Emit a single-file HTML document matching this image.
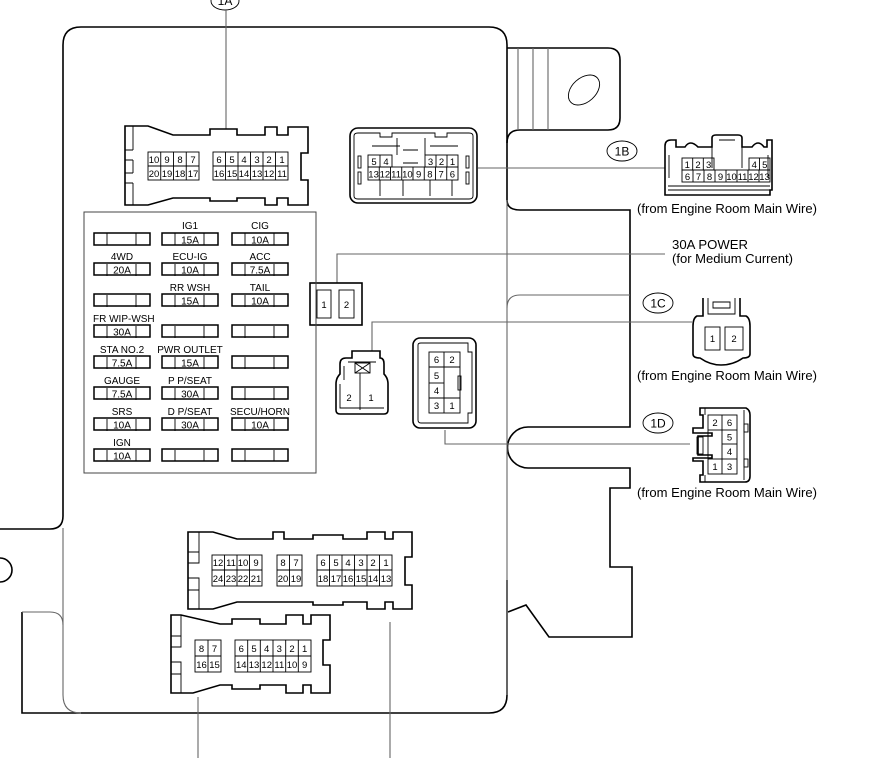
<!DOCTYPE html>
<html><head><meta charset="utf-8"><style>
html,body{margin:0;padding:0;background:#fff;}
svg{display:block;}
text{font-family:"Liberation Sans",Arial,sans-serif;fill:#000;}
.p{font-size:9.5px;text-anchor:middle;}
.l{font-size:10px;text-anchor:middle;}
.cl{font-size:12px;text-anchor:middle;}
.t{font-size:12.5px;}
.k{fill:none;stroke:#000;stroke-width:1.6;}
.g{fill:none;stroke:#666;stroke-width:1.1;}
.c{fill:none;stroke:#000;stroke-width:0.9;}
.f{fill:#fff;stroke:#000;stroke-width:1.5;}
</style></head><body>
<svg width="875" height="758" viewBox="0 0 875 758" xmlns="http://www.w3.org/2000/svg">
<path class="k" d="M0 529 L50 529 Q63 529 63 516 L63 45 Q63 27 81 27 L489 27 Q507 27 507 45 L507 200 Q507 210 520 210 L630 210 L630 427 L528 427 A20.5 20.5 0 0 0 528 468 L630 468 L630 488 L610 488 L610 567 L632 567 L632 637 L549 637 L526 605 L508 612"/>
<path class="k" d="M507 580 L507 695 Q507 713 489 713 L22 713 L22 612"/>
<path class="g" d="M22 612 L50 612 Q63 612 63 625 L63 695 Q63 713 81 713"/>
<path class="g" d="M63 528 L63 625"/>
<path class="g" d="M507 200 L507 695"/>
<path class="g" d="M630 295 L520 295 Q507 295 507 308"/>
<path class="k" d="M0 558 A12 12 0 0 1 0 582"/>
<path class="k" d="M507 48 L608 48 Q620 48 620 60 L620 118 Q620 130 608 130 L520 130 Q507 130 507 143"/>
<path class="g" d="M518 48 L518 130 M533 48 L533 130 M548 48 L548 130"/>
<ellipse cx="584" cy="90" rx="18" ry="12" transform="rotate(-42 584 90)" class="c"/>

<ellipse cx="225" cy="1" rx="14" ry="9" class="c"/>
<text x="225" y="5" class="cl">1A</text>
<line x1="226" y1="10" x2="226" y2="129" class="g"/>
<path class="k" d="M125 126 L148 126 L173 135 L210 135 L210 129 L237 129 L237 135 L265 135 L265 127 L277 127 L277 135 L288 135 L288 127 L308 127 L308 153 L301 153 L301 180 L308 180 L308 205 L288 205 L288 198 L277 198 L277 205 L265 205 L265 198 L237 198 L237 201 L210 201 L210 198 L173 198 L148 205 L125 205 Z"/>
<path class="c" d="M133 126 L133 150 M125 150 L133 150 M125 160 L133 160 M133 160 L133 173 M125 173 L133 173 M125 183 L133 183 M133 183 L133 205"/>
<g class="c">
<rect x="148" y="152" width="51" height="28"/><line x1="148" y1="166" x2="199" y2="166"/>
<line x1="160.75" y1="152" x2="160.75" y2="180"/><line x1="173.5" y1="152" x2="173.5" y2="180"/><line x1="186.25" y1="152" x2="186.25" y2="180"/>
<rect x="213" y="152" width="75" height="28"/><line x1="213" y1="166" x2="288" y2="166"/>
<line x1="225.5" y1="152" x2="225.5" y2="180"/><line x1="238" y1="152" x2="238" y2="180"/><line x1="250.5" y1="152" x2="250.5" y2="180"/><line x1="263" y1="152" x2="263" y2="180"/><line x1="275.5" y1="152" x2="275.5" y2="180"/>
</g>
<g class="p">
<text x="154" y="163">10</text><text x="167" y="163">9</text><text x="180" y="163">8</text><text x="193" y="163">7</text>
<text x="154" y="177">20</text><text x="167" y="177">19</text><text x="180" y="177">18</text><text x="193" y="177">17</text>
<text x="219" y="163">6</text><text x="232" y="163">5</text><text x="244" y="163">4</text><text x="257" y="163">3</text><text x="269" y="163">2</text><text x="282" y="163">1</text>
<text x="219" y="177">16</text><text x="232" y="177">15</text><text x="244" y="177">14</text><text x="257" y="177">13</text><text x="269" y="177">12</text><text x="282" y="177">11</text>
</g>

<rect x="350" y="128" width="127" height="75" rx="8" class="k"/>
<path class="c" d="M354 136 Q354 133 358 133 L380 133 L380 137 L392 137 L392 133 L435 133 L435 137 L447 137 L447 133 L469 133 Q473 133 473 136 L473 196 Q473 199 469 199 L358 199 Q354 199 354 196 Z"/>
<path class="c" d="M372 146 L400 146 M430 146 L458 146 M397 138 L397 155 M425 138 L425 155 M403 150 L418 150 M403 163 L418 163 M380 180 L380 196 M403 180 L403 196 M430 180 L430 196 M452 180 L452 196"/>
<rect x="358" y="156" width="3" height="12" class="c"/><rect x="358" y="172" width="3" height="12" class="c"/>
<rect x="466" y="156" width="3" height="12" class="c"/><rect x="466" y="172" width="3" height="12" class="c"/>
<g class="c">
<rect x="368" y="155" width="24" height="12"/><line x1="380" y1="155" x2="380" y2="167"/>
<rect x="425" y="155" width="33" height="12"/><line x1="436" y1="155" x2="436" y2="167"/><line x1="447" y1="155" x2="447" y2="167"/>
<rect x="368" y="167" width="90" height="13"/>
<line x1="379.25" y1="167" x2="379.25" y2="180"/><line x1="390.5" y1="167" x2="390.5" y2="180"/><line x1="401.75" y1="167" x2="401.75" y2="180"/><line x1="413" y1="167" x2="413" y2="180"/><line x1="424.25" y1="167" x2="424.25" y2="180"/><line x1="435.5" y1="167" x2="435.5" y2="180"/><line x1="446.75" y1="167" x2="446.75" y2="180"/>
</g>
<g class="p">
<text x="374" y="165">5</text><text x="386" y="165">4</text><text x="430.5" y="165">3</text><text x="441.5" y="165">2</text><text x="452.5" y="165">1</text>
<text x="373.6" y="177.5">13</text><text x="384.9" y="177.5">12</text><text x="396.1" y="177.5">11</text><text x="407.4" y="177.5">10</text><text x="418.6" y="177.5">9</text><text x="429.9" y="177.5">8</text><text x="441.1" y="177.5">7</text><text x="452.4" y="177.5">6</text>
</g>
<line x1="478" y1="168" x2="665" y2="168" class="g"/>
<ellipse cx="622" cy="151" rx="15" ry="10" class="c"/><text x="622" y="155.5" class="cl">1B</text>
<path class="k" d="M665 195 L665 146 Q665 140 671 140 L676 140 L676 147 L685 147 Q690 139 698 147 L712 147 L712 138 Q712 135 716 135 L738 135 Q742 135 742 138 L742 147 L752 147 Q758 139 764 147 L767 147 L767 140 L772 140 L772 190 L770 190 L770 195 Z"/>
<path class="c" d="M669 155 L669 178 M768 155 L768 178 M712 147 L712 168 M742 147 L742 168 M719 140 L735 140 M668 186 L770 186 M668 190 L770 190"/>
<g class="c">
<rect x="682" y="158" width="32" height="12"/><line x1="692.7" y1="158" x2="692.7" y2="170"/><line x1="703.3" y1="158" x2="703.3" y2="170"/>
<rect x="749" y="158" width="21" height="12"/><line x1="759.5" y1="158" x2="759.5" y2="170"/>
<rect x="682" y="170" width="88" height="12"/>
<line x1="693" y1="170" x2="693" y2="182"/><line x1="704" y1="170" x2="704" y2="182"/><line x1="715" y1="170" x2="715" y2="182"/><line x1="726" y1="170" x2="726" y2="182"/><line x1="737" y1="170" x2="737" y2="182"/><line x1="748" y1="170" x2="748" y2="182"/><line x1="759" y1="170" x2="759" y2="182"/>
</g>
<g class="p">
<text x="687.3" y="168">1</text><text x="698" y="168">2</text><text x="708.7" y="168">3</text><text x="754.3" y="168">4</text><text x="764.8" y="168">5</text>
<text x="687.5" y="180">6</text><text x="698.5" y="180">7</text><text x="709.5" y="180">8</text><text x="720.5" y="180">9</text><text x="731.5" y="180">10</text><text x="742.5" y="180">11</text><text x="753.5" y="180">12</text><text x="764.5" y="180">13</text>
</g>
<text x="637" y="213" class="t" textLength="180" lengthAdjust="spacingAndGlyphs">(from Engine Room Main Wire)</text>

<text x="672" y="249" class="t" textLength="76" lengthAdjust="spacingAndGlyphs">30A POWER</text>
<text x="672" y="263" class="t" textLength="121" lengthAdjust="spacingAndGlyphs">(for Medium Current)</text>
<path class="g" d="M665 254 L337 254 L337 283"/>
<rect x="310" y="283" width="52" height="42" class="k"/>
<rect x="317" y="290" width="14" height="28" class="c"/><rect x="339" y="290" width="15" height="28" class="c"/>
<text x="324" y="308" class="p">1</text><text x="346.5" y="308" class="p">2</text>

<rect x="84" y="212" width="232" height="261" fill="none" stroke="#444" stroke-width="1"/>
<g class="l">
<text x="190" y="229">IG1</text><text x="260" y="229">CIG</text>
<text x="122" y="260">4WD</text><text x="190" y="260">ECU-IG</text><text x="260" y="260">ACC</text>
<text x="190" y="291">RR WSH</text><text x="260" y="291">TAIL</text>
<text x="93" y="322" style="text-anchor:start">FR WIP-WSH</text>
<text x="122" y="353">STA NO.2</text><text x="190" y="353">PWR OUTLET</text>
<text x="122" y="384">GAUGE</text><text x="190" y="384">P P/SEAT</text>
<text x="122" y="415">SRS</text><text x="190" y="415">D P/SEAT</text><text x="260" y="415">SECU/HORN</text>
<text x="122" y="446">IGN</text>
</g>
<g class="f">
<rect x="94" y="233" width="56" height="12"/><rect x="162" y="233" width="56" height="12"/><rect x="232" y="233" width="56" height="12"/>
<rect x="94" y="263" width="56" height="12"/><rect x="162" y="263" width="56" height="12"/><rect x="232" y="263" width="56" height="12"/>
<rect x="94" y="294" width="56" height="12"/><rect x="162" y="294" width="56" height="12"/><rect x="232" y="294" width="56" height="12"/>
<rect x="94" y="325" width="56" height="12"/><rect x="162" y="325" width="56" height="12"/><rect x="232" y="325" width="56" height="12"/>
<rect x="94" y="356" width="56" height="12"/><rect x="162" y="356" width="56" height="12"/><rect x="232" y="356" width="56" height="12"/>
<rect x="94" y="387" width="56" height="12"/><rect x="162" y="387" width="56" height="12"/><rect x="232" y="387" width="56" height="12"/>
<rect x="94" y="418" width="56" height="12"/><rect x="162" y="418" width="56" height="12"/><rect x="232" y="418" width="56" height="12"/>
<rect x="94" y="449" width="56" height="12"/><rect x="162" y="449" width="56" height="12"/><rect x="232" y="449" width="56" height="12"/>
</g>
<path class="c" d="M107 233V461 M136 233V461 M175 233V461 M204 233V461 M245 233V461 M274 233V461" stroke-dasharray="12 19"/>
<g class="l">
<text x="190" y="243.5">15A</text><text x="260" y="243.5">10A</text>
<text x="122" y="273.5">20A</text><text x="190" y="273.5">10A</text><text x="260" y="273.5">7.5A</text>
<text x="190" y="304.5">15A</text><text x="260" y="304.5">10A</text>
<text x="122" y="335.5">30A</text>
<text x="122" y="366.5">7.5A</text><text x="190" y="366.5">15A</text>
<text x="122" y="397.5">7.5A</text><text x="190" y="397.5">30A</text>
<text x="122" y="428.5">10A</text><text x="190" y="428.5">30A</text><text x="260" y="428.5">10A</text>
<text x="122" y="459.5">10A</text>
</g>

<path class="g" d="M692 322 L372 322 L372 351"/>
<path class="k" d="M352 351 L380 351 L380 358 Q384 358 384 364 L384 374 Q388 378 388 384 L388 410 Q388 414 384 414 L340 414 Q336 414 336 410 L336 384 Q336 378 340 374 L340 364 Q340 358 346 358 L352 358 Z"/>
<path class="c" d="M344 366 L344 380 M348 362 L376 362 M360 373 L360 410 M340 384 L340 408 L384 408"/>
<rect x="355" y="363" width="15" height="10" class="c"/><path class="c" d="M355 363 L370 373 M370 363 L355 373"/>
<text x="349" y="401" class="p">2</text><text x="371" y="401" class="p">1</text>

<rect x="413" y="338" width="63" height="90" rx="7" class="k"/>
<path class="c" d="M418 345 Q418 343 421 343 L468 343 L468 352 L472 352 L472 413 L468 413 L468 423 L421 423 Q418 423 418 420 Z"/>
<g class="c">
<rect x="429" y="352" width="31" height="61"/><line x1="429" y1="367" x2="460" y2="367"/><line x1="429" y1="383" x2="444" y2="383"/><line x1="429" y1="398" x2="460" y2="398"/><line x1="444" y1="352" x2="444" y2="413"/>
<rect x="458" y="376" width="3" height="14"/>
</g>
<g class="p">
<text x="436.5" y="363">6</text><text x="452" y="363">2</text><text x="436.5" y="379">5</text><text x="436.5" y="394">4</text><text x="436.5" y="409">3</text><text x="452" y="409">1</text>
</g>
<path class="g" d="M445 430 L445 444 L690 444"/>

<ellipse cx="658" cy="303" rx="15" ry="10" class="c"/><text x="658" y="307.5" class="cl">1C</text>
<path class="k" d="M703 298 L703 316 L697 316 Q693 318 693 326 L693 354 Q693 358 700 358 Q710 365 721 365 Q733 365 743 358 Q750 358 750 354 L750 326 Q750 318 746 316 L740 316 L740 298"/>
<path class="c" d="M708 298 L708 314 L735 314 L735 298 M713 302 L730 302 L730 308 L713 308 Z"/>
<rect x="705" y="327" width="15" height="23" class="c"/><rect x="725" y="327" width="18" height="23" class="c"/>
<text x="712.5" y="342" class="p">1</text><text x="734" y="342" class="p">2</text>
<text x="637" y="380" class="t" textLength="180" lengthAdjust="spacingAndGlyphs">(from Engine Room Main Wire)</text>

<ellipse cx="658" cy="423" rx="15" ry="10" class="c"/><text x="658" y="427.5" class="cl">1D</text>
<path class="k" d="M700 408 L746 408 Q750 410 750 415 L750 476 Q750 482 745 482 L700 482 L700 475 L703 475 L703 461 L693 461 L693 458 L712 458 L712 455 L698 455 L698 436 L712 436 L712 433 L693 433 L693 428 L703 428 L703 415 L700 415 Z"/>
<rect x="697" y="437" width="6" height="17" class="c"/>
<path class="c" d="M705 408 L705 415 M705 475 L705 482 M744 410 L744 480"/>
<rect x="744" y="424" width="4" height="8" class="c"/><rect x="744" y="459" width="4" height="8" class="c"/>
<g class="c">
<rect x="708" y="415" width="29" height="59"/><line x1="708" y1="430" x2="722" y2="430"/><line x1="722" y1="415" x2="722" y2="474"/><line x1="722" y1="430" x2="737" y2="430"/><line x1="722" y1="444" x2="737" y2="444"/><line x1="722" y1="459" x2="737" y2="459"/><line x1="708" y1="459" x2="722" y2="459"/>
</g>
<g class="p">
<text x="715" y="426">2</text><text x="729.5" y="426">6</text><text x="729.5" y="440.5">5</text><text x="729.5" y="455">4</text><text x="715" y="470">1</text><text x="729.5" y="470">3</text>
</g>
<text x="637" y="497" class="t" textLength="180" lengthAdjust="spacingAndGlyphs">(from Engine Room Main Wire)</text>

<path class="k" d="M188 532 L213 532 L237 539 L273 539 L273 532 L284 532 L284 539 L313 539 L313 535 L343 535 L343 539 L367 539 L367 532 L385 532 L385 539 L393 539 L393 532 L412 532 L412 557 L405 557 L405 585 L412 585 L412 609 L393 609 L393 602 L385 602 L385 609 L367 609 L367 602 L343 602 L343 605 L313 605 L313 602 L237 602 L213 609 L188 609 Z"/>
<path class="c" d="M199 532 L199 552 M188 552 L199 552 L199 563 L188 563 M188 578 L199 578 L199 590 L188 590 M199 590 L199 609"/>
<g class="c">
<rect x="212" y="555" width="50" height="31"/><line x1="212" y1="570" x2="262" y2="570"/><line x1="224.5" y1="555" x2="224.5" y2="586"/><line x1="237" y1="555" x2="237" y2="586"/><line x1="249.5" y1="555" x2="249.5" y2="586"/>
<rect x="277" y="555" width="25" height="31"/><line x1="277" y1="570" x2="302" y2="570"/><line x1="289.5" y1="555" x2="289.5" y2="586"/>
<rect x="317" y="555" width="75" height="31"/><line x1="317" y1="570" x2="392" y2="570"/>
<line x1="329.5" y1="555" x2="329.5" y2="586"/><line x1="342" y1="555" x2="342" y2="586"/><line x1="354.5" y1="555" x2="354.5" y2="586"/><line x1="367" y1="555" x2="367" y2="586"/><line x1="379.5" y1="555" x2="379.5" y2="586"/>
</g>
<g class="p">
<text x="218" y="566">12</text><text x="231" y="566">11</text><text x="243" y="566">10</text><text x="256" y="566">9</text>
<text x="218" y="582">24</text><text x="231" y="582">23</text><text x="243" y="582">22</text><text x="256" y="582">21</text>
<text x="283" y="566">8</text><text x="296" y="566">7</text><text x="283" y="582">20</text><text x="296" y="582">19</text>
<text x="323" y="566">6</text><text x="336" y="566">5</text><text x="348" y="566">4</text><text x="361" y="566">3</text><text x="373" y="566">2</text><text x="386" y="566">1</text>
<text x="323" y="582">18</text><text x="336" y="582">17</text><text x="348" y="582">16</text><text x="361" y="582">15</text><text x="373" y="582">14</text><text x="386" y="582">13</text>
</g>

<path class="k" d="M171 615 L181 615 L220 624 L232 624 L232 619 L260 619 L260 624 L286 624 L286 615 L303 615 L303 624 L311 624 L311 615 L330 615 L330 640 L323 640 L323 665 L330 665 L330 693 L311 693 L311 685 L303 685 L303 693 L286 693 L286 685 L260 685 L260 689 L232 689 L232 685 L220 685 L193 693 L171 693 Z"/>
<path class="c" d="M181 615 L181 636 M171 636 L181 636 L181 647 L171 647 M171 662 L181 662 L181 674 L171 674 M181 674 L181 693"/>
<g class="c">
<rect x="195" y="640" width="26" height="32"/><line x1="195" y1="656" x2="221" y2="656"/><line x1="208" y1="640" x2="208" y2="672"/>
<rect x="235" y="640" width="76" height="32"/><line x1="235" y1="656" x2="311" y2="656"/>
<line x1="247.7" y1="640" x2="247.7" y2="672"/><line x1="260.3" y1="640" x2="260.3" y2="672"/><line x1="273" y1="640" x2="273" y2="672"/><line x1="285.7" y1="640" x2="285.7" y2="672"/><line x1="298.3" y1="640" x2="298.3" y2="672"/>
</g>
<g class="p">
<text x="201.5" y="652">8</text><text x="214.5" y="652">7</text><text x="201.5" y="668">16</text><text x="214.5" y="668">15</text>
<text x="241.3" y="652">6</text><text x="254" y="652">5</text><text x="266.7" y="652">4</text><text x="279.3" y="652">3</text><text x="292" y="652">2</text><text x="304.7" y="652">1</text>
<text x="241.3" y="668">14</text><text x="254" y="668">13</text><text x="266.7" y="668">12</text><text x="279.3" y="668">11</text><text x="292" y="668">10</text><text x="304.7" y="668">9</text>
</g>
<line x1="198" y1="697" x2="198" y2="758" class="g"/>
<line x1="390" y1="622" x2="390" y2="758" class="g"/>
</svg>
</body></html>
